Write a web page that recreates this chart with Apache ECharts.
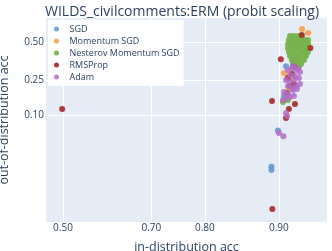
<!DOCTYPE html>
<html><head><meta charset="utf-8">
<script src="https://cdn.jsdelivr.net/npm/echarts@6/dist/echarts.min.js"></script>
<style>html,body{margin:0;padding:0;background:#fff}#c{width:332px;height:251px}</style>
</head><body><div id="c"></div>
<script>
// ---- data (accuracies) ----
const seriesNames = ['SGD','Momentum SGD','Nesterov Momentum SGD','RMSProp','Adam'];
const xTicks = [0.5, 0.7, 0.8, 0.9];
const xTickLabels = ['0.50','0.70','0.80','0.90'];
const yTicks = [0.1, 0.25, 0.5];
const yTickLabels = ['0.10','0.25','0.50'];

const sgdX = [0.892, 0.892, 0.899, 0.906, 0.9072, 0.9052, 0.912, 0.918, 0.922, 0.915];
const sgdY = [0.0143, 0.0124, 0.060, 0.159, 0.336, 0.172, 0.45, 0.40, 0.50, 0.36];

const momX = [0.9220, 0.9271, 0.9193, 0.9091, 0.9100, 0.9052, 0.9150, 0.9237, 0.9180, 0.9120, 0.9260, 0.9200];
const momY = [0.590, 0.563, 0.528, 0.2696, 0.2098, 0.293, 0.48, 0.43, 0.38, 0.52, 0.50, 0.45];

const nesX = [0.9111, 0.9148, 0.9184, 0.9220,
  0.9100, 0.9139, 0.9175, 0.9211, 0.9245, 0.9271,
  0.9091, 0.9129, 0.9166, 0.9202, 0.9237, 0.9271,
  0.9091, 0.9129, 0.9166, 0.9202, 0.9237, 0.9271,
  0.9100, 0.9139, 0.9175, 0.9211, 0.9245, 0.9271,
  0.9111, 0.9148, 0.9184, 0.9220, 0.9254,
  0.9129, 0.9166, 0.9202, 0.9237,
  0.9139, 0.9175, 0.9211,
  0.9157, 0.9193,
  0.9042, 0.9091];
const nesY = [0.542, 0.542, 0.542, 0.542,
  0.514, 0.514, 0.514, 0.514, 0.514, 0.514,
  0.486, 0.486, 0.486, 0.486, 0.486, 0.486,
  0.458, 0.458, 0.458, 0.458, 0.458, 0.458,
  0.430, 0.430, 0.430, 0.430, 0.430, 0.430,
  0.403, 0.403, 0.403, 0.403, 0.403,
  0.376, 0.376, 0.376, 0.376,
  0.350, 0.350, 0.350,
  0.330, 0.330,
  0.146, 0.1545];

const rmsX = [0.498, 0.893, 0.902, 0.9218, 0.929, 0.915, 0.8926, 0.910, 0.9157, 0.9072, 0.9129, 0.9091, 0.9111, 0.9148, 0.9082];
const rmsY = [0.120, 0.0017, 0.381, 0.549, 0.458, 0.329, 0.150, 0.120, 0.1383, 0.0912, 0.2873, 0.264, 0.220, 0.2306, 0.1854];

const adamX = [0.9091, 0.9129, 0.9166, 0.9202, 0.9111, 0.9157, 0.9193, 0.9072, 0.9111, 0.9148,
  0.9091, 0.9129, 0.9166, 0.9052, 0.9091, 0.9139, 0.9072, 0.9111, 0.9148, 0.9175,
  0.9202, 0.9042, 0.9072, 0.9082, 0.900, 0.9045, 0.9184, 0.9139];
const adamY = [0.312, 0.324, 0.312, 0.2994, 0.2814, 0.2755, 0.264, 0.2524, 0.2414, 0.2524,
  0.220, 0.2098, 0.220, 0.190, 0.181, 0.200, 0.163, 0.1673, 0.1718, 0.2047,
  0.2306, 0.1545, 0.1065, 0.0971, 0.055, 0.049, 0.324, 0.337];

// ---- probit transform (inverse normal CDF, Acklam) ----
function probit(p){
  const a=[-3.969683028665376e+01,2.209460984245205e+02,-2.759285104469687e+02,1.383577518672690e+02,-3.066479806614716e+01,2.506628277459239e+00];
  const b=[-5.447609879822406e+01,1.615858368580409e+02,-1.556989798598866e+02,6.680131188771972e+01,-1.328068155288572e+01];
  const c=[-7.784894002430293e-03,-3.223964580411365e-01,-2.400758277161838e+00,-2.549671010229528e+00,4.374664141464968e+00,2.938163982698783e+00];
  const d=[7.784695709041462e-03,3.224671290700398e-01,2.445134137142996e+00,3.754408661907416e+00];
  const pl=0.02425, ph=1-pl; let q,r;
  if(p<pl){q=Math.sqrt(-2*Math.log(p));return (((((c[0]*q+c[1])*q+c[2])*q+c[3])*q+c[4])*q+c[5])/((((d[0]*q+d[1])*q+d[2])*q+d[3])*q+1);}
  if(p<=ph){q=p-0.5;r=q*q;return (((((a[0]*r+a[1])*r+a[2])*r+a[3])*r+a[4])*r+a[5])*q/(((((b[0]*r+b[1])*r+b[2])*r+b[3])*r+b[4])*r+1);}
  q=Math.sqrt(-2*Math.log(1-p));return -(((((c[0]*q+c[1])*q+c[2])*q+c[3])*q+c[4])*q+c[5])/((((d[0]*q+d[1])*q+d[2])*q+d[3])*q+1);
}
function pts(xs, ys){ return xs.map((x,i)=>[probit(x), probit(ys[i])]); }
function labelFor(ticks, labels){
  return v => { v=Number(v); let best=0; ticks.forEach((t,i)=>{ if(Math.abs(probit(t)-v)<Math.abs(probit(ticks[best])-v)) best=i; }); return labels[best]; };
}

const colors = ['#5f9bd3','#f5a04a','#76b34c','#a83232','#b26cc2'];
const opac = [0.9, 0.9, 0.95, 0.95, 0.85];
const dataSets = [pts(sgdX,sgdY), pts(momX,momY), pts(nesX,nesY), pts(rmsX,rmsY), pts(adamX,adamY)];
const font = '"Open Sans", "Liberation Sans", sans-serif';
const txt = '#2a3f5f';

const chart = echarts.init(document.getElementById('c'), null, {renderer:'canvas'});
chart.setOption({
  animation:false,
  backgroundColor:'#ffffff',
  title:{text:'WILDS_civilcomments:ERM (probit scaling)', left:40, top:0,
    textStyle:{fontFamily:font, fontSize:14, fontWeight:'normal', color:txt}},
  grid:{left:46, right:5, top:18, bottom:29, show:true, backgroundColor:'#e5ecf6', borderWidth:0,
    containLabel:false, outerBoundsMode:'none'},
  legend:{orient:'vertical', left:48, top:20, itemWidth:16, itemHeight:5, itemGap:2,
    padding:[4,4,4,6], backgroundColor:'#ffffff', icon:'circle',
    textStyle:{fontFamily:font, fontSize:9, color:txt, lineHeight:10},
    data:seriesNames},
  xAxis:{type:'value', min:-0.101, max:1.567,
    name:'in-distribution acc', nameLocation:'middle', nameGap:19, nameMoveOverlap:false,
    nameTextStyle:{fontFamily:font, fontSize:12.5, color:txt},
    axisLine:{show:false}, axisTick:{show:false, customValues:xTicks.map(probit)},
    axisLabel:{customValues:xTicks.map(probit), formatter:labelFor(xTicks,xTickLabels), margin:1,
      align:'center', verticalAlign:'top', hideOverlap:false,
      fontFamily:font, fontSize:10, color:txt},
    splitLine:{show:true, lineStyle:{color:'#ffffff', width:1}}},
  yAxis:{type:'value', min:-3.158, max:0.421,
    name:'out-of-distribution acc', nameLocation:'middle', nameGap:35, nameMoveOverlap:false,
    nameTextStyle:{fontFamily:font, fontSize:12.5, color:txt},
    axisLine:{show:false}, axisTick:{show:false, customValues:yTicks.map(probit)},
    axisLabel:{customValues:yTicks.map(probit), formatter:labelFor(yTicks,yTickLabels), margin:2,
      align:'right', verticalAlign:'middle', hideOverlap:false,
      fontFamily:font, fontSize:10, color:txt},
    splitLine:{show:true, lineStyle:{color:'#ffffff', width:1}}},
  series: seriesNames.map((n,i)=>({
    name:n, type:'scatter', data:dataSets[i], symbolSize:6,
    itemStyle:{color:colors[i], opacity:opac[i]}, z:2+i
  }))
});
</script>
</body></html>
